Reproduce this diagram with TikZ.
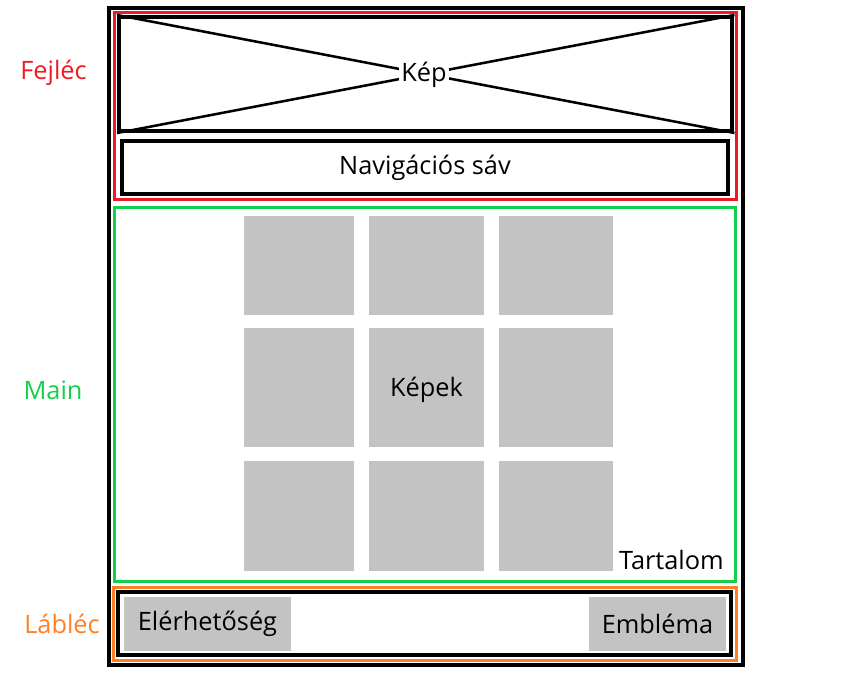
\documentclass[tikz,border=0pt]{standalone}
\usepackage{fontspec}
\setmainfont{Open Sans}
\definecolor{headred}{RGB}{237,28,36}
\definecolor{maingreen}{RGB}{18,208,74}
\definecolor{footorange}{RGB}{255,127,39}
\definecolor{tilegray}{RGB}{195,195,195}

\begin{document}
\begin{tikzpicture}[x=0.75pt, y=-0.75pt,
    every node/.style={font=\fontsize{19}{23}\selectfont},
    frame/.style={draw, rectangle, inner sep=0pt},
    tile/.style={fill=tilegray, rectangle, inner sep=0pt}]
  \useasboundingbox (0,0) rectangle (845,672);
  % keretek
  \node[frame, line width=3pt, minimum width=475.5pt, minimum height=492.4pt] (page) at (425.5,336.25) {};
  \node[frame, draw=headred, line width=2.25pt, minimum width=466.5pt, minimum height=140.6pt] (header) at (425.5,106.25) {};
  \node[frame, line width=3pt, minimum width=460.1pt, minimum height=85.5pt] (kep) at (425.75,74) {};
  \node[frame, line width=3pt, minimum width=454.5pt, minimum height=39.75pt] (nav) at (425,167.5) {Navigációs sáv};
  \node[frame, draw=maingreen, line width=2.25pt, minimum width=466.1pt, minimum height=280.5pt] (main) at (424.75,394.5) {};
  \node[frame, draw=footorange, line width=2.25pt, minimum width=467.6pt, minimum height=54.4pt] (footer) at (425.25,623.75) {};
  \node[frame, line width=3pt, minimum width=459.75pt, minimum height=47.25pt] (footin) at (424,623) {};
  % kep helye
  \draw[line width=1.9pt] (kep.north west) -- (kep.south east);
  \draw[line width=1.9pt] (kep.south west) -- (kep.north east);
  \node[fill=white, inner sep=2pt] (keplbl) at (424,75) {Kép};
  % kepek racsa
  \foreach \x/\w [count=\i] in {299/82.5, 426.5/86.25, 556/85.5}
    \foreach \y/\h [count=\j] in {265.5/74.25, 387.5/89.25, 516/82.5}
      \node[tile, minimum width=\w pt, minimum height=\h pt] (tile\i\j) at (\x,\y) {};
  \node at ([yshift=-1.5pt]tile22) {Képek};
  \node[anchor=south east, inner sep=0pt] (tartalom) at (724,570) {Tartalom};
  % lablec
  \node[tile, minimum width=125.25pt, minimum height=40.5pt] (contact) at (207.5,624) {Elérhetőség};
  \node[tile, minimum width=102.75pt, minimum height=40.5pt] (logo) at (657.5,624) {Embléma};
  % cimkek
  \node[text=headred] (lblhead) at (53.5,73) {Fejléc};
  \node[text=maingreen] (lblmain) at (53,390) {Main};
  \node[text=footorange] (lblfoot) at (62,624) {Lábléc};
\end{tikzpicture}
\end{document}
